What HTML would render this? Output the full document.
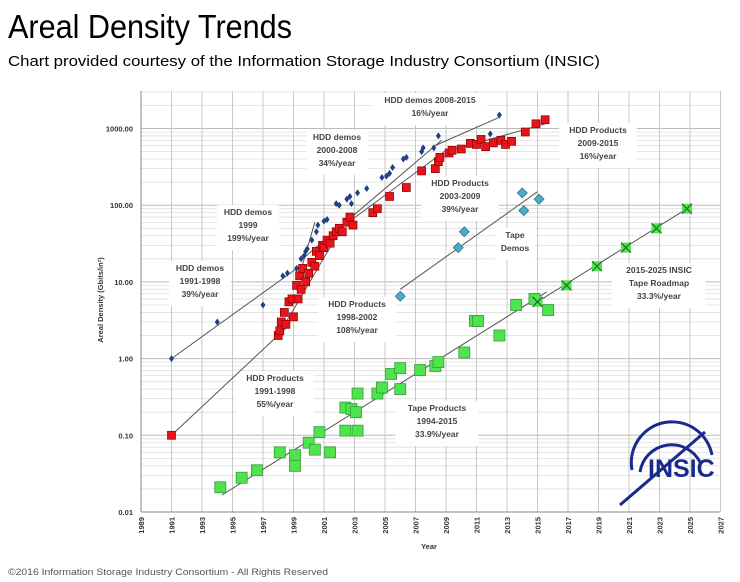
<!DOCTYPE html>
<html><head><meta charset="utf-8">
<style>
html,body{margin:0;padding:0;background:#fff;}
svg{display:block;font-family:"Liberation Sans",sans-serif;}
.lbl{font-size:8.5px;font-weight:bold;fill:#444;text-anchor:middle;}
.tick{font-size:7.5px;font-weight:bold;fill:#333;}
</style></head>
<body>
<svg id="chart" width="740" height="582" viewBox="0 0 740 582" xmlns="http://www.w3.org/2000/svg">
<text x="8" y="38" font-size="33" textLength="284" lengthAdjust="spacingAndGlyphs" fill="#000">Areal Density Trends</text>
<text x="8" y="66" font-size="15" textLength="592" lengthAdjust="spacingAndGlyphs" fill="#000">Chart provided courtesy of the Information Storage Industry Consortium (INSIC)</text>
<text x="8" y="575" font-size="9.5" textLength="320" lengthAdjust="spacingAndGlyphs" fill="#555">©2016 Information Storage Industry Consortium - All Rights Reserved</text>
<g id="grid"></g>
<g id="lines"></g>
<g id="labels"></g>
<g id="marks"></g>
<g id="axes"></g>
<g stroke="#1a2a8c" fill="none" stroke-width="3">
  <path d="M632 470 A40 40 0 0 1 712 455"/>
  <path d="M640 472 A32 32 0 0 1 700 462"/>
  <path d="M620 505 L705 432"/>
  <text x="648" y="477" font-size="25" font-weight="bold" fill="#1a2a8c" stroke="none">INSIC</text>
</g>
</svg>
<script>
const hddDemosX=[1991,1994,1997,1998.3,1998.6,1999.2,1999.5,1999.7,1999.8,1999.9,2000.2,2000.5,2000.6,2001,2001.2,2001.8,2002,2002.5,2002.7,2002.8,2003.2,2003.8,2004.8,2005.1,2005.3,2005.5,2006.2,2006.4,2007.4,2007.5,2008.2,2008.5,2011.9,2012.5];
const hddDemosY=[1,3,5,12,13,15,20,22,25,27,35,45,55,62,65,105,100,120,130,105,145,165,230,240,260,310,400,420,500,560,560,800,850,1500];
const hddProdX=[1991,1998,1998.1,1998.2,1998.4,1998.5,1998.7,1998.9,1999,1999.2,1999.3,1999.4,1999.5,1999.6,1999.8,2000,2000.2,2000.4,2000.5,2000.7,2000.9,2001,2001.2,2001.4,2001.6,2001.8,2002,2002.2,2002.5,2002.7,2002.9,2004.2,2004.5,2005.3,2006.4,2007.4,2008.3,2008.5,2008.6,2009.2,2009.4,2010,2010.6,2011,2011.3,2011.6,2012.1,2012.6,2012.9,2013.3,2014.2,2014.9,2015.5];
const hddProdY=[0.1,2,2.3,3,4,2.8,5.5,6,3.5,9,6,12,8,15,10,13,18,16,25,22,30,28,35,32,40,45,50,45,60,70,55,80,90,130,170,280,300,370,420,480,520,540,640,620,720,580,650,700,620,680,900,1150,1300];
const tapeDemosX=[2006,2009.8,2010.2,2014,2014.1,2015.1];
const tapeDemosY=[6.5,28,45,145,85,120];
const tapeProdX=[1994.2,1995.6,1996.6,1998.1,1999.1,1999.1,2000,2000.4,2000.7,2001.4,2002.4,2002.4,2002.8,2003.1,2003.2,2003.2,2004.5,2004.8,2005.4,2006,2006,2007.3,2008.3,2008.5,2010.2,2010.9,2011.1,2012.5,2013.6,2014.8,2015.7];
const tapeProdY=[0.021,0.028,0.035,0.06,0.055,0.04,0.08,0.065,0.11,0.06,0.23,0.115,0.22,0.2,0.35,0.115,0.35,0.42,0.63,0.75,0.4,0.71,0.8,0.9,1.2,3.1,3.1,2.0,5,6,4.3];
const roadmapX=[2015,2016.9,2018.9,2020.8,2022.8,2024.8];
const roadmapY=[5.5,9,16,28,50,90];
const trendX1=[1991,1999.6,1999.6,2008.3,1991,1998,2002.6,2009,2006,1994.3,2015];
const trendY1=[1,17,20,600,0.1,2,60,500,8,0.0166,5.5];
const trendX2=[1999.6,2000.4,2008.7,2012.5,1998.5,2002.6,2009,2015.5,2015,2015.6,2024.8];
const trendY2=[17,60,700,1400,2.5,72,520,1150,150,7.4,90];
const xTickLabels=[1989,1991,1993,1995,1997,1999,2001,2003,2005,2007,2009,2011,2013,2015,2017,2019,2021,2023,2025,2027];
const yTickLabels=["0.01","0.10","1.00","10.00","100.00","1000.00"];

const NS="http://www.w3.org/2000/svg";
const X0=141,PXY=15.25,Y0=512,PXD=76.7,TOP=91,RIGHT=720;
function xs(yr){return X0+(yr-1989)*PXY;}
function ys(v){return Y0-(Math.log10(v)+2)*PXD;}
function mk(tag,attrs,parent){const e=document.createElementNS(NS,tag);for(const k in attrs)e.setAttribute(k,attrs[k]);parent.appendChild(e);return e;}
const grid=document.getElementById('grid'),lines=document.getElementById('lines'),labels=document.getElementById('labels'),marks=document.getElementById('marks'),axes=document.getElementById('axes');

// horizontal grid
for(let d=-2;d<=3;d++){for(let m=1;m<=9;m++){const v=m*Math.pow(10,d);const y=ys(v);if(y<TOP)continue;
 const l=mk('line',{x1:X0,x2:RIGHT,y1:y,y2:y,stroke:m==1?'#bbb':'#ddd','stroke-width':m==1?1:0.8},grid);
 
 }}
// vertical grid
xTickLabels.forEach(yr=>{const l=mk('line',{x1:xs(yr),x2:xs(yr),y1:TOP,y2:Y0,stroke:'#c8c8c8','stroke-width':1},grid);
 
 });
// axes
const ax1=mk('line',{x1:X0,x2:X0,y1:TOP,y2:Y0,stroke:'#888'},axes);


const ax2=mk('line',{x1:X0,x2:RIGHT,y1:Y0,y2:Y0,stroke:'#888'},axes);


yTickLabels.forEach(s=>{const t=mk('text',{x:133,y:ys(parseFloat(s))+3,class:'tick','text-anchor':'end'},axes);t.textContent=s;
 
 });
xTickLabels.forEach(yr=>{const x=xs(yr);const t=mk('text',{x:0,y:0,class:'tick','text-anchor':'end',transform:`translate(${x+3},${Y0+5}) rotate(-90)`},axes);t.textContent=yr;
 
 });
const xt=mk('text',{x:429,y:549,class:'tick','text-anchor':'middle','font-size':'8'},axes);xt.textContent='Year';


const yt=mk('text',{x:0,y:0,class:'tick','text-anchor':'middle',transform:'translate(103,300) rotate(-90)','font-size':'7'},axes);yt.textContent='Areal Density (Gbits/in²)';



// annotations
const ann=[[430,[ "HDD demos 2008-2015","16%/year"],103],[337,["HDD demos","2000-2008","34%/year"],140],[248,["HDD demos","1999","199%/year"],215],
[200,["HDD demos","1991-1998","39%/year"],271],[357,["HDD Products","1998-2002","108%/year"],307],[275,["HDD Products","1991-1998","55%/year"],381],
[460,["HDD Products","2003-2009","39%/year"],186],[515,["Tape","Demos"],238],[598,["HDD Products","2009-2015","16%/year"],133],
[659,["2015-2025 INSIC","Tape Roadmap","33.3%/year"],273],[437,["Tape Products","1994-2015","33.9%/year"],411]];
ann.forEach(a=>{const g=mk('g',{},labels);
 
 const w=Math.max(...a[1].map(s=>s.length))*5.3+14;
 mk('rect',{x:a[0]-w/2,y:a[2]-10,width:w,height:a[1].length*13+6,fill:'#fff'},g);
 a[1].forEach((s,i)=>{const t=mk('text',{x:a[0],y:a[2]+i*13,class:'lbl'},g);t.textContent=s;});});

// trend lines
trendX1.forEach((x,i)=>{const l=mk('line',{x1:xs(x),y1:ys(trendY1[i]),x2:xs(trendX2[i]),y2:ys(trendY2[i]),stroke:'#555','stroke-width':1},lines);
 
 });
labels.parentNode.insertBefore(lines,marks);

// marks
hddDemosX.forEach((x,i)=>{const cx=xs(x),cy=ys(hddDemosY[i]);const p=mk('polygon',{points:`${cx},${cy-3.5} ${cx+2.5},${cy} ${cx},${cy+3.5} ${cx-2.5},${cy}`,fill:'#1f3f86'},marks);
 
 });
hddProdX.forEach((x,i)=>{const cx=xs(x),cy=ys(hddProdY[i]);const p=mk('rect',{x:cx-4,y:cy-4,width:8,height:8,fill:'#e8141b',stroke:'#8a0000','stroke-width':0.7},marks);
 
 });
tapeDemosX.forEach((x,i)=>{const cx=xs(x),cy=ys(tapeDemosY[i]);const p=mk('polygon',{points:`${cx},${cy-5} ${cx+5},${cy} ${cx},${cy+5} ${cx-5},${cy}`,fill:'#4bacc6',stroke:'#2a6a80','stroke-width':0.7},marks);
 
 });
tapeProdX.forEach((x,i)=>{const cx=xs(x),cy=ys(tapeProdY[i]);const p=mk('rect',{x:cx-5.5,y:cy-5.5,width:11,height:11,fill:'#4ee44e',stroke:'#3a9a3a','stroke-width':0.8},marks);
 
 });
roadmapX.forEach((x,i)=>{const cx=xs(x),cy=ys(roadmapY[i]);const g=mk('g',{},marks);
 
 
 mk('rect',{x:cx-5,y:cy-5,width:10,height:10,fill:'#4ee44e'},g);
 mk('path',{d:`M${cx-5} ${cy-5}L${cx+5} ${cy+5}M${cx+5} ${cy-5}L${cx-5} ${cy+5}`,stroke:'#2a6a2a','stroke-width':1.2},g);});
</script>
</body></html>
